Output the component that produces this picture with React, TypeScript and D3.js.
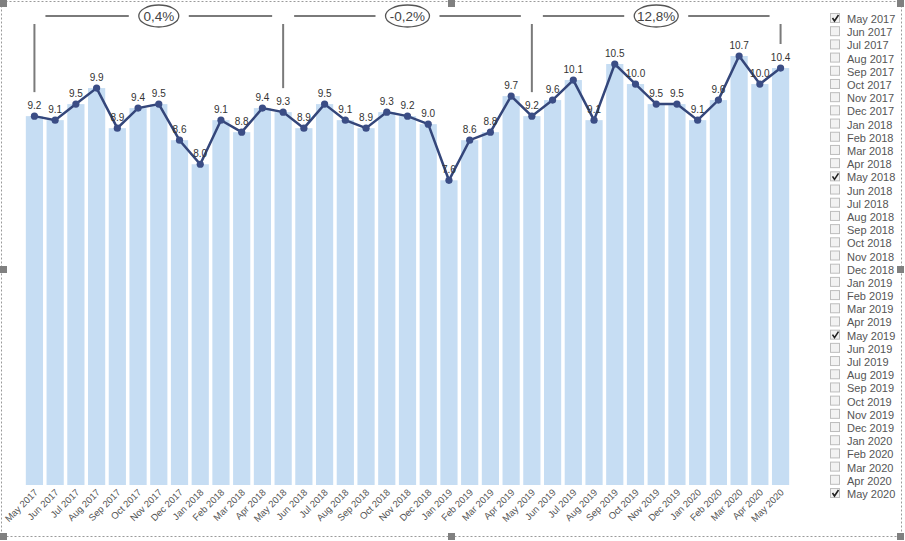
import React, { useEffect, useRef } from 'react';
import * as d3 from 'd3';

const months = [
  'May 2017', 'Jun 2017', 'Jul 2017', 'Aug 2017', 'Sep 2017', 'Oct 2017', 'Nov 2017', 'Dec 2017',
  'Jan 2018', 'Feb 2018', 'Mar 2018', 'Apr 2018', 'May 2018', 'Jun 2018', 'Jul 2018', 'Aug 2018',
  'Sep 2018', 'Oct 2018', 'Nov 2018', 'Dec 2018', 'Jan 2019', 'Feb 2019', 'Mar 2019', 'Apr 2019',
  'May 2019', 'Jun 2019', 'Jul 2019', 'Aug 2019', 'Sep 2019', 'Oct 2019', 'Nov 2019', 'Dec 2019',
  'Jan 2020', 'Feb 2020', 'Mar 2020', 'Apr 2020', 'May 2020'
];

const values = [
  9.2, 9.1, 9.5, 9.9, 8.9, 9.4, 9.5, 8.6,
  8.0, 9.1, 8.8, 9.4, 9.3, 8.9, 9.5, 9.1,
  8.9, 9.3, 9.2, 9.0, 7.6, 8.6, 8.8, 9.7,
  9.2, 9.6, 10.1, 9.1, 10.5, 10.0, 9.5, 9.5,
  9.1, 9.6, 10.7, 10.0, 10.4
];

// brackets between selected months
const bracketFrom = ['May 2017', 'May 2018', 'May 2019'];
const bracketTo = ['May 2018', 'May 2019', 'May 2020'];
const bracketLabels = ['0,4%', '-0,2%', '12,8%'];

const checkedMonths = ['May 2017', 'May 2018', 'May 2019', 'May 2020'];

const FONT = '"Liberation Sans", Arial, sans-serif';

export default function App() {
  const ref = useRef<SVGSVGElement>(null);

  useEffect(() => {
    const width = 905;
    const height = 541;
    const svg = d3.select(ref.current);
    svg.selectAll('*').remove();

    const plotLeft = 25;
    const plotRight = 790;
    const baseY = 485;

    const x = d3.scaleBand()
      .domain(months)
      .range([plotLeft, plotRight])
      .paddingInner(0.17)
      .paddingOuter(0.04);

    const y = d3.scaleLinear()
      .domain([0, 10.7])
      .range([baseY, 56]);

    const cx = (m: string) => (x(m) as number) + x.bandwidth() / 2;

    // frame
    svg.append('rect')
      .attr('x', 1.5).attr('y', 1.5)
      .attr('width', 900).attr('height', 535)
      .attr('fill', 'none')
      .attr('stroke', '#9a9a9a')
      .attr('stroke-width', 1)
      .attr('stroke-dasharray', '2,2');

    // bars
    svg.append('g')
      .selectAll('rect')
      .data(values)
      .enter()
      .append('rect')
      .attr('x', (d, i) => x(months[i]) as number)
      .attr('y', d => y(d))
      .attr('width', x.bandwidth())
      .attr('height', d => baseY - y(d))
      .attr('fill', '#c6ddf3');

    // line
    const line = d3.line<number>()
      .x((d, i) => cx(months[i]))
      .y(d => y(d));

    svg.append('path')
      .datum(values)
      .attr('d', line)
      .attr('fill', 'none')
      .attr('stroke', '#34467a')
      .attr('stroke-width', 2.5);

    svg.append('g')
      .selectAll('circle')
      .data(values)
      .enter()
      .append('circle')
      .attr('cx', (d, i) => cx(months[i]))
      .attr('cy', d => y(d))
      .attr('r', 3.6)
      .attr('fill', '#3b4d85');

    // value labels
    svg.append('g')
      .selectAll('text')
      .data(values)
      .enter()
      .append('text')
      .attr('x', (d, i) => cx(months[i]))
      .attr('y', d => y(d) - 7)
      .attr('text-anchor', 'middle')
      .style('font-family', FONT)
      .style('font-size', '10px')
      .attr('fill', '#333')
      .text(d => d.toFixed(1));

    // x axis labels
    svg.append('g')
      .selectAll('text')
      .data(months)
      .enter()
      .append('text')
      .attr('transform', m => `translate(${cx(m) + 4}, ${baseY + 8}) rotate(-45)`)
      .attr('text-anchor', 'end')
      .style('font-family', FONT)
      .style('font-size', '9.5px')
      .attr('fill', '#555')
      .text(m => m);

    // brackets
    const lineY = 16;
    const bg = svg.append('g');
    const vertical = (m: string) => {
      const i = months.indexOf(m);
      bg.append('line')
        .attr('x1', cx(m)).attr('x2', cx(m))
        .attr('y1', 24).attr('y2', y(values[i]) - 24)
        .attr('stroke', '#7a7a7a').attr('stroke-width', 2);
    };
    bracketFrom.forEach((m, k) => {
      const x1 = cx(m) + 11;
      const x2 = cx(bracketTo[k]) - 11;
      const mid = (x1 + x2) / 2;
      const half = bracketLabels[k].length > 4 ? 22 : 20;
      bg.append('line')
        .attr('x1', x1).attr('x2', mid - half - 10)
        .attr('y1', lineY).attr('y2', lineY)
        .attr('stroke', '#7a7a7a').attr('stroke-width', 2);
      bg.append('line')
        .attr('x1', mid + half + 10).attr('x2', x2)
        .attr('y1', lineY).attr('y2', lineY)
        .attr('stroke', '#7a7a7a').attr('stroke-width', 2);
      bg.append('ellipse')
        .attr('cx', mid).attr('cy', lineY)
        .attr('rx', half).attr('ry', 11)
        .attr('fill', '#fff')
        .attr('stroke', '#555').attr('stroke-width', 1.3);
      bg.append('text')
        .attr('x', mid).attr('y', lineY + 5)
        .attr('text-anchor', 'middle')
        .style('font-family', FONT)
        .style('font-size', '13.5px')
        .attr('fill', '#444')
        .text(bracketLabels[k]);
      vertical(m);
    });
    vertical(bracketTo[bracketTo.length - 1]);

    // legend (slicer)
    const lg = svg.append('g');
    const ly = d3.scalePoint()
      .domain(months)
      .range([19, 494]);
    months.forEach(m => {
      const yy = ly(m) as number;
      lg.append('rect')
        .attr('x', 830.5).attr('y', yy - 5.5)
        .attr('width', 9).attr('height', 9)
        .attr('fill', '#f2f2f2')
        .attr('stroke', '#bdbdbd');
      if (checkedMonths.includes(m)) {
        lg.append('path')
          .attr('d', `M832.5,${yy - 1} L834.5,${yy + 2} L838.5,${yy - 4}`)
          .attr('fill', 'none')
          .attr('stroke', '#222')
          .attr('stroke-width', 1.6);
      }
      lg.append('text')
        .attr('x', 847).attr('y', yy + 4)
        .style('font-family', FONT)
        .style('font-size', '11px')
        .attr('fill', '#555')
        .text(m);
    });

    // selection handles
    const handles = [[0, 0], [448, 0], [897, 0], [0, 266], [897, 266], [0, 533], [448, 533], [897, 533]];
    svg.append('g')
      .selectAll('rect')
      .data(handles)
      .enter()
      .append('rect')
      .attr('x', d => d[0]).attr('y', d => d[1])
      .attr('width', 7).attr('height', 7)
      .attr('fill', '#808080');

    svg.attr('width', width).attr('height', height);
  }, []);

  return (
    <svg
      ref={ref}
      width={905}
      height={541}
      style={{ position: 'absolute', left: 0, top: 0, background: '#fff' }}
    />
  );
}
